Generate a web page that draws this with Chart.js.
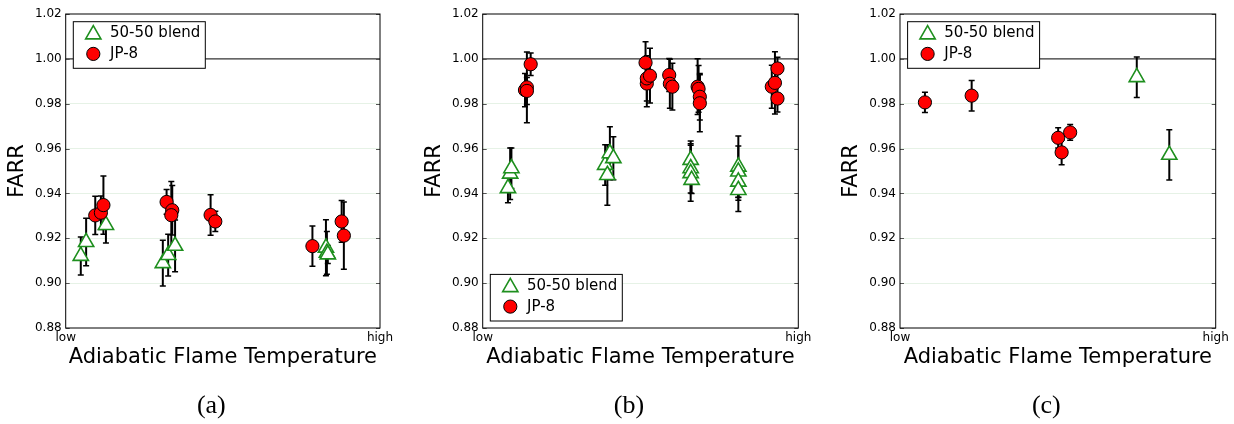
<!DOCTYPE html>
<html><head><meta charset="utf-8">
<script src="https://cdn.jsdelivr.net/npm/chart.js@4.4.1/dist/chart.umd.min.js"></script>
<style>
html,body{margin:0;padding:0;background:#fff;width:1234px;height:424px;overflow:hidden;}
canvas{position:absolute;top:0;display:block;}
</style></head><body>
<canvas id="ca" width="400" height="424" style="left:0px"></canvas>
<canvas id="cb" width="410" height="424" style="left:410px"></canvas>
<canvas id="cc" width="404" height="424" style="left:830px"></canvas>
<script>
// ---------------- data ----------------
const seriesNames = ['50-50 blend', 'JP-8'];
const xTickValues = [0, 1];
const xTickLabels = ['low', 'high'];
const yTickValues = [0.88, 0.90, 0.92, 0.94, 0.96, 0.98, 1.00, 1.02];
const refLineValue = 1.00;
const xAxisTitle = 'Adiabatic Flame Temperature';
const yAxisTitle = 'FARR';
const panelCaptions = ['(a)', '(b)', '(c)'];

// panel (a)
const aBlendX   = [0.048, 0.065, 0.128, 0.309, 0.326, 0.348, 0.828, 0.831, 0.834];
const aBlendY   = [0.9121, 0.9183, 0.9259, 0.9089, 0.9125, 0.9166, 0.9158, 0.9135, 0.9128];
const aBlendErr = [0.0085, 0.0106, 0.0080, 0.0102, 0.0093, 0.0115, 0.0125, 0.0095, 0.0040];
const aJp8X   = [0.094, 0.112, 0.120, 0.321, 0.339, 0.336, 0.461, 0.476, 0.785, 0.878, 0.885];
const aJp8Y   = [0.9302, 0.9314, 0.9348, 0.9362, 0.9325, 0.9303, 0.9304, 0.9275, 0.9165, 0.9275, 0.9212];
const aJp8Err = [0.0085, 0.0075, 0.0130, 0.0055, 0.0110, 0.0150, 0.0090, 0.0045, 0.0090, 0.0093, 0.0150];

// panel (b)
const bBlendX   = [0.080, 0.087, 0.091, 0.388, 0.395, 0.403, 0.414, 0.659, 0.659, 0.659, 0.662, 0.810, 0.810, 0.810, 0.810];
const bBlendY   = [0.9423, 0.9488, 0.9512, 0.9527, 0.9482, 0.9579, 0.9557, 0.9549, 0.9512, 0.9490, 0.9460, 0.9519, 0.9497, 0.9452, 0.9415];
const bBlendErr = [0.0065, 0.0115, 0.0090, 0.0090, 0.0135, 0.0118, 0.0096, 0.0085, 0.0110, 0.0125, 0.0060, 0.0137, 0.0114, 0.0082, 0.0096];
const bJp8X   = [0.134, 0.140, 0.140, 0.152, 0.516, 0.520, 0.520, 0.530, 0.591, 0.593, 0.601, 0.681, 0.684, 0.688, 0.688, 0.916, 0.926, 0.934, 0.934];
const bJp8Y   = [0.9861, 0.9873, 0.9857, 0.9976, 0.9983, 0.9890, 0.9913, 0.9925, 0.9928, 0.9889, 0.9876, 0.9876, 0.9866, 0.9831, 0.9802, 0.9876, 0.9893, 0.9957, 0.9823];
const bJp8Err = [0.0074, 0.0158, 0.0060, 0.0050, 0.0093, 0.0103, 0.0101, 0.0122, 0.0074, 0.0109, 0.0104, 0.0124, 0.0104, 0.0104, 0.0127, 0.0096, 0.0139, 0.0050, 0.0060];

// panel (c)
const cBlendX   = [0.750, 0.853];
const cBlendY   = [0.9918, 0.9572];
const cBlendErr = [0.0090, 0.0112];
const cJp8X   = [0.079, 0.227, 0.501, 0.512, 0.539];
const cJp8Y   = [0.9806, 0.9836, 0.9648, 0.9583, 0.9672];
const cJp8Err = [0.0045, 0.0068, 0.0045, 0.0055, 0.0035];

// ---------------- layout / style ----------------
const FONT = '"DejaVu Sans", "Liberation Sans", sans-serif';
const panels = [
  {id:'ca', w:400, plotLeft:65.7, plotRight:380.0, legend:'top',
   blend:[aBlendX, aBlendY, aBlendErr], jp8:[aJp8X, aJp8Y, aJp8Err]},
  {id:'cb', w:410, plotLeft:72.7, plotRight:388.3, legend:'bottom',
   blend:[bBlendX, bBlendY, bBlendErr], jp8:[bJp8X, bJp8Y, bJp8Err]},
  {id:'cc', w:404, plotLeft:70.0, plotRight:385.7, legend:'top',
   blend:[cBlendX, cBlendY, cBlendErr], jp8:[cJp8X, cJp8Y, cJp8Err]}
];
const PLOT_TOP = 14, PLOT_BOTTOM = 328, H = 424;
const GREEN = '#1e8f1e', RED = '#ff0000';
const triStyle = {pointStyle:'triangle', radius:8.8, borderColor:GREEN, backgroundColor:'#ffffff', borderWidth:1.6};
const cirStyle = {pointStyle:'circle', radius:6.6, borderColor:'#000000', backgroundColor:RED, borderWidth:1};

function pts(xs, ys){ return xs.map((x,i)=>({x:x, y:ys[i]})); }

const decorPlugin = {
  id:'decor',
  beforeDatasetsDraw(chart){
    const {ctx, chartArea:a, scales:{x, y}} = chart;
    ctx.save();
    const yr = y.getPixelForValue(refLineValue);
    ctx.strokeStyle = '#333'; ctx.lineWidth = 1.3;
    ctx.beginPath(); ctx.moveTo(a.left, yr); ctx.lineTo(a.right, yr); ctx.stroke();
    ctx.strokeStyle = '#000';
    chart.data.datasets.forEach(ds => {
      ds.data.forEach((p, i) => {
        const e = ds.errors[i];
        const px = x.getPixelForValue(p.x);
        const t = y.getPixelForValue(p.y + e), b = y.getPixelForValue(p.y - e);
        ctx.lineWidth = 2;
        ctx.beginPath(); ctx.moveTo(px, t); ctx.lineTo(px, b); ctx.stroke();
        ctx.lineWidth = 1.5;
        ctx.beginPath();
        ctx.moveTo(px-3, t); ctx.lineTo(px+3, t);
        ctx.moveTo(px-3, b); ctx.lineTo(px+3, b);
        ctx.stroke();
      });
    });
    ctx.restore();
  },
  afterDraw(chart){
    const {ctx, chartArea:a, scales:{y}} = chart;
    const opt = chart.options.plugins.decor;
    ctx.save();
    ctx.strokeStyle = '#555'; ctx.lineWidth = 1;
    yTickValues.forEach(v => {
      const py = Math.round(y.getPixelForValue(v)) + 0.5;
      ctx.beginPath();
      ctx.moveTo(a.left, py); ctx.lineTo(a.left + 4, py);
      ctx.moveTo(a.right, py); ctx.lineTo(a.right - 4, py);
      ctx.stroke();
    });
    ctx.strokeStyle = '#000'; ctx.lineWidth = 1;
    ctx.strokeRect(a.left, a.top, a.right - a.left, a.bottom - a.top);
    // legend
    const lw = 132, lh = 46.6;
    const lx = a.left + 7.6;
    const ly = opt.legend === 'top' ? a.top + 7.7 : a.bottom - 7 - lh;
    ctx.fillStyle = '#fff';
    ctx.fillRect(lx, ly, lw, lh);
    ctx.strokeStyle = '#000'; ctx.lineWidth = 1;
    ctx.strokeRect(lx, ly, lw, lh);
    const styles = [triStyle, cirStyle];
    const rowsY = [ly + 10.8, ly + 32.2];
    styles.forEach((s, i) => {
      ctx.save();
      ctx.strokeStyle = s.borderColor; ctx.fillStyle = s.backgroundColor; ctx.lineWidth = s.borderWidth;
      Chart.helpers.drawPoint(ctx, {pointStyle:s.pointStyle, radius:s.radius, rotation:0, borderWidth:s.borderWidth}, lx + 20, rowsY[i] + (i===0 ? 2 : 0));
      ctx.restore();
      ctx.fillStyle = '#000';
      ctx.font = '15px ' + FONT;
      ctx.textAlign = 'left'; ctx.textBaseline = 'middle';
      ctx.fillText(seriesNames[i], lx + 36.7, rowsY[i] + 0.5);
    });
    // axis titles
    const cx = (a.left + a.right) / 2, cy = (a.top + a.bottom) / 2;
    ctx.fillStyle = '#000';
    ctx.font = '21px ' + FONT;
    ctx.textAlign = 'center'; ctx.textBaseline = 'middle';
    ctx.fillText(xAxisTitle, cx, 358);
    ctx.save();
    ctx.translate(a.left - 48, cy);
    ctx.rotate(-Math.PI / 2);
    ctx.fillText(yAxisTitle, 0, 0);
    ctx.restore();
    ctx.font = '26px "Liberation Serif", "Times New Roman", serif';
    ctx.fillText(opt.caption, cx - 11.5, 406);
    ctx.restore();
  }
};

panels.forEach((p, k) => {
  new Chart(document.getElementById(p.id), {
    type:'scatter',
    data:{datasets:[
      Object.assign({label:seriesNames[0], data:pts(p.blend[0], p.blend[1]), errors:p.blend[2], order:1},
        {pointStyle:triStyle.pointStyle, pointRadius:triStyle.radius, pointBorderColor:triStyle.borderColor,
         pointBackgroundColor:triStyle.backgroundColor, pointBorderWidth:triStyle.borderWidth}),
      Object.assign({label:seriesNames[1], data:pts(p.jp8[0], p.jp8[1]), errors:p.jp8[2], order:0},
        {pointStyle:cirStyle.pointStyle, pointRadius:cirStyle.radius, pointBorderColor:cirStyle.borderColor,
         pointBackgroundColor:cirStyle.backgroundColor, pointBorderWidth:cirStyle.borderWidth})
    ]},
    options:{
      responsive:false, animation:false, devicePixelRatio:1,
      layout:{padding:{left:0, top:PLOT_TOP, right:p.w - p.plotRight, bottom:0}},
      plugins:{legend:{display:false}, tooltip:{enabled:false},
               decor:{legend:p.legend, caption:panelCaptions[k]}},
      scales:{
        x:{type:'linear', min:0, max:1,
           afterFit(s){ s.height = H - PLOT_BOTTOM; },
           afterBuildTicks(s){ s.ticks = xTickValues.map(v=>({value:v})); },
           grid:{display:false, drawTicks:false}, border:{display:false},
           ticks:{padding:3, maxRotation:0, autoSkip:false, color:'#000', font:{family:FONT, size:12},
                  callback:(v, i)=>xTickLabels[i]}},
        y:{type:'linear', min:0.88, max:1.02,
           afterFit(s){ s.width = p.plotLeft; },
           afterBuildTicks(s){ s.ticks = yTickValues.map(v=>({value:v})); },
           grid:{drawTicks:false, lineWidth:1,
                 color:(c)=> (c.tick && (Math.abs(c.tick.value-0.88)<1e-6 || Math.abs(c.tick.value-1.02)<1e-6 || Math.abs(c.tick.value-1.0)<1e-6)) ? 'rgba(0,0,0,0)' : '#e6f2e6'},
           border:{display:false},
           ticks:{padding:4, color:'#000', autoSkip:false, font:{family:FONT, size:12},
                  callback:(v)=>Number(v).toFixed(2)}}
      }
    },
    plugins:[decorPlugin]
  });
});
</script>
</body></html>
